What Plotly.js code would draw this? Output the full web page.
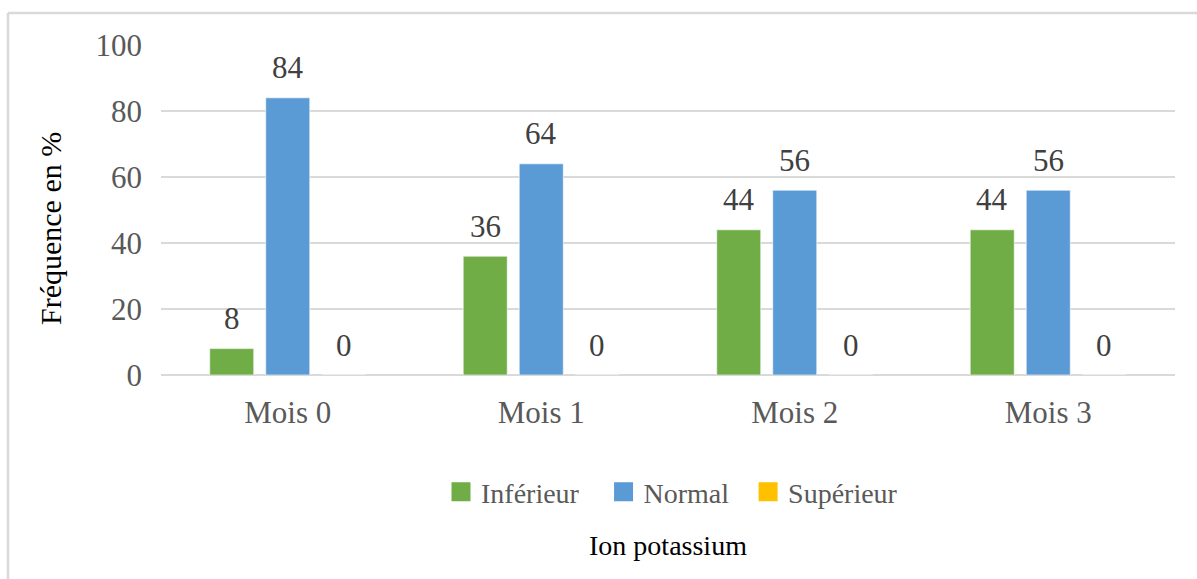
<!DOCTYPE html>
<html>
<head>
<meta charset="utf-8">
<script src="https://cdn.plot.ly/plotly-3.0.1.min.js"></script>
<style>
  html, body { margin: 0; padding: 0; background: #fff; }
  #chart { width: 1197px; height: 579px; }
</style>
</head>
<body>
<div id="chart"></div>
<script>
// ---- data ----
const categories = ["Mois 0", "Mois 1", "Mois 2", "Mois 3"];
const seriesNames = ["Inférieur", "Normal", "Supérieur"];
const inferieur = [8, 36, 44, 44];
const normal = [84, 64, 56, 56];
const superieur = [0, 0, 0, 0];
const yTickVals = [0, 20, 40, 60, 80, 100];
const yTitle = "Fréquence en %";
const xTitle = "Ion potassium";

// ---- style ----
const colors = ["#70AD47", "#5B9BD5", "#FFC000"];
const FONT = "Liberation Serif, Times New Roman, serif";
const W = 1197, H = 579;
const M = { l: 161, r: 22, t: 45, b: 204 };
const BARGAP = 0.337, BARGROUPGAP = 0.214;
const legendPad = ["\u00a0\u00a0\u2009", "\u00a0\u00a0", ""];

const seriesValues = [inferieur, normal, superieur];
const plotW = W - M.l - M.r;
const plotH = H - M.t - M.b;
const slot = plotW / categories.length * (1 - BARGAP) / seriesValues.length;

const traces = [];
seriesValues.forEach((vals, i) => {
  traces.push({
    type: "bar",
    x: categories,
    y: vals,
    name: seriesNames[i],
    showlegend: false,
    marker: { color: colors[i], line: { width: 1, color: "rgba(255,255,255,0.6)" } },
    hoverinfo: "x+y+name"
  });
});
// legend-only entries (larger square symbols)
seriesValues.forEach((vals, i) => {
  traces.push({
    type: "scatter",
    mode: "markers",
    x: [categories[0]],
    y: [null],
    name: seriesNames[i] + legendPad[i],
    marker: { symbol: "square", size: 16, color: colors[i], line: { width: 3, color: colors[i] } },
    hoverinfo: "skip"
  });
});

// data labels above bars
const annotations = [];
seriesValues.forEach((vals, i) => {
  vals.forEach((v, j) => {
    annotations.push({
      x: categories[j], y: v, xref: "x", yref: "y",
      text: String(v), showarrow: false,
      xshift: (i - (seriesValues.length - 1) / 2) * slot,
      yshift: 30, yanchor: "middle", xanchor: "center",
      font: { family: FONT, size: 31, color: "#404040" }
    });
  });
});
// y-axis title
annotations.push({
  xref: "paper", yref: "paper",
  x: (50 - M.l) / plotW, y: (H - M.b - 229) / plotH,
  text: yTitle, textangle: -90, showarrow: false,
  xanchor: "center", yanchor: "middle",
  font: { family: FONT, size: 30, color: "#000000" }
});

const borderColor = "#d9d9d9";
const px2x = p => (p - M.l) / plotW;
const px2y = p => (H - M.b - p) / plotH;

const layout = {
  width: W, height: H,
  margin: M,
  paper_bgcolor: "#ffffff",
  plot_bgcolor: "#ffffff",
  font: { family: FONT, size: 28, color: "#595959" },
  barmode: "group",
  bargap: BARGAP,
  bargroupgap: BARGROUPGAP,
  xaxis: {
    type: "category",
    showgrid: false, zeroline: false, showline: false,
    ticks: "", ticklabelstandoff: 16,
    tickfont: { family: FONT, size: 31, color: "#595959" },
    title: { text: xTitle, standoff: 106, font: { family: FONT, size: 28, color: "#000000" } },
    automargin: false, fixedrange: true
  },
  yaxis: {
    range: [0, 100],
    tickvals: yTickVals,
    showgrid: true, gridcolor: "#d9d9d9", gridwidth: 2,
    zeroline: true, zerolinecolor: "#d9d9d9", zerolinewidth: 2,
    showline: false, ticks: "", ticklabelstandoff: 18,
    tickfont: { family: FONT, size: 31, color: "#595959" },
    automargin: false, fixedrange: true
  },
  legend: {
    orientation: "h",
    x: px2x(441), xanchor: "left",
    y: px2y(492), yanchor: "middle",
    font: { family: FONT, size: 28, color: "#595959" },
    bgcolor: "rgba(0,0,0,0)"
  },
  annotations: annotations,
  shapes: [
    { type: "line", xref: "paper", yref: "paper", x0: px2x(8), x1: px2x(W + 10), y0: px2y(13), y1: px2y(13),
      line: { color: borderColor, width: 2.5 } },
    { type: "line", xref: "paper", yref: "paper", x0: px2x(8), x1: px2x(8), y0: px2y(13), y1: px2y(H + 10),
      line: { color: borderColor, width: 2.5 } }
  ],
  showlegend: true
};

Plotly.newPlot("chart", traces, layout, { displayModeBar: false, staticPlot: true });
</script>
</body>
</html>
